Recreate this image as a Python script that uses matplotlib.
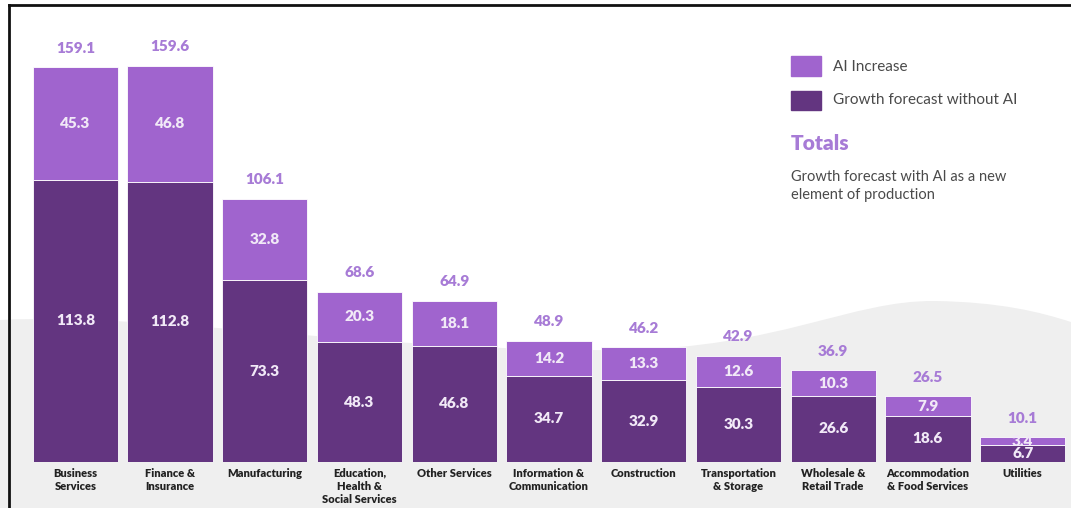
#!/usr/bin/env python3

import matplotlib
matplotlib.use("Agg")
import matplotlib.pyplot as plt
import numpy as np
from matplotlib.path import Path
from matplotlib.patches import PathPatch, Rectangle
from matplotlib.lines import Line2D

plt.rcParams['font.family'] = ['Lato', 'DejaVu Sans']

OUTPUT_FNAME = "out.png"

sectors = [
    "Business\nServices", "Finance &\nInsurance", "Manufacturing",
    "Education,\nHealth &\nSocial Services", "Other Services",
    "Information &\nCommunication", "Construction", "Transportation\n& Storage",
    "Wholesale &\nRetail Trade", "Accommodation\n& Food Services", "Utilities",
]
base_growth = [113.8, 112.8, 73.3, 48.3, 46.8, 34.7, 32.9, 30.3, 26.6, 18.6, 6.7]
ai_increase = [45.3, 46.8, 32.8, 20.3, 18.1, 14.2, 13.3, 12.6, 10.3, 7.9, 3.4]
totals = [159.1, 159.6, 106.1, 68.6, 64.9, 48.9, 46.2, 42.9, 36.9, 26.5, 10.1]

DARK = '#633580'
LIGHT = '#A064CE'
TOTAL_CLR = '#A77BD6'
TEXT_CLR = '#4a4a4a'

W, H = 1071, 508


def fx(px):
    return px / W


def fy(py):
    return 1 - py / H


def plot():
    fig = plt.figure(figsize=(W / 100, H / 100), dpi=100)
    fig.patch.set_facecolor('white')

    # grey wave in the background
    verts = [(0, 320), (150, 312), (380, 352), (620, 350),
             (780, 348), (850, 300), (935, 301),
             (1000, 302), (1040, 312), (1071, 322),
             (1071, 508), (0, 508), (0, 320)]
    codes = [Path.MOVETO, Path.CURVE4, Path.CURVE4, Path.CURVE4,
             Path.CURVE4, Path.CURVE4, Path.CURVE4,
             Path.CURVE4, Path.CURVE4, Path.CURVE4,
             Path.LINETO, Path.LINETO, Path.CLOSEPOLY]
    wave = Path([(fx(x), fy(y)) for x, y in verts], codes)
    fig.add_artist(PathPatch(wave, transform=fig.transFigure,
                             facecolor='#EFEFEF', edgecolor='none', zorder=0))

    # border (only top and left are visible in the crop)
    fig.add_artist(Line2D([fx(9), 1], [fy(5), fy(5)], color='#111111', lw=2,
                          transform=fig.transFigure, zorder=5))
    fig.add_artist(Line2D([fx(9), fx(9)], [fy(5), 0], color='#111111', lw=2,
                          transform=fig.transFigure, zorder=5))

    ax = fig.add_axes([fx(28), fy(462), fx(1070) - fx(28), fy(40) - fy(462)])
    ax.patch.set_alpha(0)
    ax.set_zorder(2)

    ind = np.arange(len(sectors))
    bar_width = 0.9
    ax.bar(ind, base_growth, bar_width, color=DARK, edgecolor='white', linewidth=0.6)
    ax.bar(ind, ai_increase, bar_width, bottom=base_growth, color=LIGHT,
           edgecolor='white', linewidth=0.6)

    for i in ind:
        b, a, t = base_growth[i], ai_increase[i], totals[i]
        ax.text(i, b / 2, f"{b}", ha='center', va='center', color='#F1E9F7',
                fontsize=11, fontweight='heavy')
        ax.text(i, b + a / 2, f"{a}", ha='center', va='center', color='#F1E9F7',
                fontsize=11, fontweight='heavy')
        ax.text(i, b + a + 5, f"{t}", ha='center', va='bottom', color=TOTAL_CLR,
                fontsize=11, fontweight='heavy')

    ax.set_xlim(-0.5, len(sectors) - 0.5)
    ax.set_ylim(0, 170)
    ax.set_xticks(ind, sectors, fontsize=8, fontweight='heavy', color='#222222',
                  linespacing=1.25, va='top')
    ax.tick_params(axis='x', length=0, pad=4)
    ax.set_yticks([])
    for s in ax.spines.values():
        s.set_visible(False)

    # legend / notes on the right
    fig.add_artist(Rectangle((fx(791), fy(76)), fx(30), fy(56) - fy(76),
                             transform=fig.transFigure, color=LIGHT, zorder=3))
    fig.add_artist(Rectangle((fx(791), fy(110)), fx(30), fy(91) - fy(110),
                             transform=fig.transFigure, color=DARK, zorder=3))
    fig.text(fx(833), fy(67), "AI Increase", fontsize=11, color=TEXT_CLR, va='center')
    fig.text(fx(833), fy(100), "Growth forecast without AI", fontsize=11,
             color=TEXT_CLR, va='center')
    fig.text(fx(791), fy(143), "Totals", fontsize=15, fontweight='heavy',
             color=TOTAL_CLR, va='center')
    fig.text(fx(791), fy(170), "Growth forecast with AI as a new\nelement of production",
             fontsize=10.5, color=TEXT_CLR, va='top', linespacing=1.35)

    fig.savefig(OUTPUT_FNAME, dpi=100)


def main():
    plot()


if __name__ == "__main__":
    main()
